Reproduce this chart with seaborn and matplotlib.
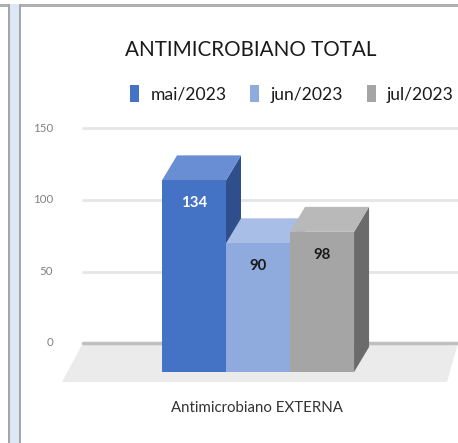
import matplotlib
matplotlib.use("Agg")
import matplotlib.pyplot as plt
import matplotlib.transforms as mtransforms
from matplotlib.patches import Polygon, Rectangle, Patch
import pandas as pd
import seaborn as sns

# dados do grafico
meses = ["mai/2023", "jun/2023", "jul/2023"]
valores = [134, 90, 98]
categoria = ["Antimicrobiano EXTERNA"]
titulo = "ANTIMICROBIANO TOTAL"
ticks = [0, 50, 100, 150]
tick_labels = ["0", "50", "100", "150"]

cores = ["#4472C4", "#8FAADC", "#A5A5A5"]
cores_topo = ["#6A8ED3", "#A8BEE6", "#B9B9B9"]
cores_lado = ["#2E4E8C", "#6E8CC2", "#6B6B6B"]
cores_rotulo = ["white", "#1A1A1A", "#1A1A1A"]

df = pd.DataFrame({"cat": categoria * len(meses), "mes": meses, "valor": valores})

sns.set_style("white")
plt.rcParams["font.family"] = ["Lato", "DejaVu Sans"]

W, H = 458, 443
fig = plt.figure(figsize=(W / 100, H / 100), dpi=100)
fig.patch.set_facecolor("white")
fig.canvas.draw()
renderer = fig.canvas.get_renderer()


def tamanho(s, largura, **kw):
    # font size (pt) that makes the text about `largura` pixels wide
    t = fig.text(0, 0, s, fontsize=10, **kw)
    w = t.get_window_extent(renderer).width
    t.remove()
    return 10 * largura / w


# axes: front face plane, y=0 at 372px from top
ax = fig.add_axes([83 / W, (H - 372) / H, 375 / W, 260 / H])
sns.barplot(data=df, x="cat", y="valor", hue="mes", hue_order=meses, palette=cores,
            saturation=1, width=0.8, linewidth=0, legend=False, ax=ax)
barras = sorted([p for c in ax.containers for p in c], key=lambda p: p.get_x())
ax.set_xlim(-0.729, 0.833)
ax.set_ylim(0, 260 / 1.43)
ax.set_axis_off()

px = lambda p: p / 100.0
parede = mtransforms.ScaledTranslation(0, px(29), fig.dpi_scale_trans)

# floor (3d base)
tr = ax.transData
bl = ax.transAxes.transform((0, 0))
br = ax.transAxes.transform((1, 0))
chao = Polygon([(bl[0], bl[1] + 29), (br[0], br[1] + 29), (br[0] - 11, br[1] - 10), (bl[0] - 21, bl[1] - 10)],
               closed=True, transform=mtransforms.IdentityTransform(), facecolor="#EBEBEB",
               edgecolor="none", zorder=0.2, clip_on=False)
ax.add_patch(chao)

# gridlines on the back wall
fs_tick = tamanho("150", 20)
for v, lab in zip(ticks, tick_labels):
    cor = "#BFBFBF" if v == 0 else "#E6E6E6"
    ax.plot([0, 1], [v, v], transform=ax.get_yaxis_transform() + parede, color=cor,
            lw=2.5 if v == 0 else 2, zorder=0.5, clip_on=False)
    ax.text(0, v, lab, transform=ax.get_yaxis_transform() + parede
            + mtransforms.ScaledTranslation(-px(30), 0, fig.dpi_scale_trans),
            ha="right", va="center", fontsize=fs_tick, color="#808080")

# 3d faces of the bars
dx, dy = 15, 25
fs_val = tamanho("134", 26, fontweight="bold")
for i, p in enumerate(barras):
    x0, w, h = p.get_x(), p.get_width(), p.get_height()
    a = tr.transform((x0, 0))
    b = tr.transform((x0 + w, h))
    topo = [(a[0], b[1]), (b[0], b[1]), (b[0] + dx, b[1] + dy), (a[0] + dx, b[1] + dy)]
    lado = [(b[0], a[1]), (b[0] + dx, a[1] + dy), (b[0] + dx, b[1] + dy), (b[0], b[1])]
    for pts, c in [(lado, cores_lado[i]), (topo, cores_topo[i])]:
        ax.add_patch(Polygon(pts, closed=True, transform=mtransforms.IdentityTransform(),
                             facecolor=c, edgecolor="none", zorder=3 + 3 * i, clip_on=False))
    p.set_zorder(4 + 3 * i)
    ax.annotate(str(valores[i]), (x0 + w / 2, h), xytext=(0, -23), textcoords="offset pixels",
                ha="center", va="center", fontsize=fs_val, fontweight="bold",
                color=cores_rotulo[i], zorder=20)

# texts
fig.text(251 / W, 1 - 50 / H, titulo, ha="center", va="center",
         fontsize=tamanho(titulo, 250), color="#1A1A1A")

fs_leg = tamanho(meses[0], 76)
em = fs_leg * 100 / 72
handles = [Patch(facecolor=c, edgecolor="none") for c in cores]
fig.legend(handles, meses, loc="center", bbox_to_anchor=(292 / W, 1 - 94 / H), ncol=3,
           frameon=False, fontsize=fs_leg, handlelength=9 / em, handleheight=18 / em,
           handletextpad=11 / em, columnspacing=24 / em, labelcolor="#1A1A1A",
           borderpad=0, borderaxespad=0)
fig.text(257 / W, 1 - 408 / H, categoria[0], ha="center", va="center",
         fontsize=tamanho(categoria[0], 172), color="#333333")

# window borders of the screenshot
borda = [Rectangle((0, H - 7), W, 3, facecolor="#B0B0B0", edgecolor="none"),
         Rectangle((9, 0), 11, H - 4, facecolor="#DCE8F6", edgecolor="none"),
         Rectangle((8, 0), 2, H - 4, facecolor="#A6A6A6", edgecolor="none"),
         Rectangle((19, 0), 2, H - 4, facecolor="#A6A6A6", edgecolor="none")]
for r in borda:
    r.set_transform(mtransforms.IdentityTransform())
    fig.add_artist(r)

fig.savefig("out.png", dpi=100)
